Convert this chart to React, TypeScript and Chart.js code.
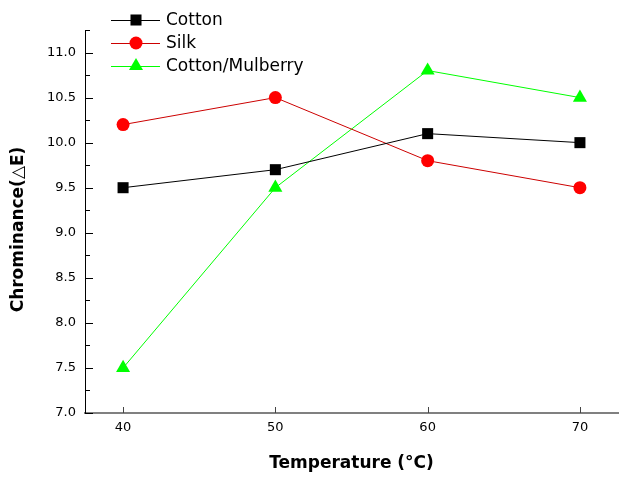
import React, { useEffect, useRef } from "react";
import { Chart, registerables } from "chart.js";
import { drawPoint } from "chart.js/helpers";

Chart.register(...registerables);

const temperatures = [40, 50, 60, 70];
const cottonValues = [9.5, 9.7, 10.1, 10.0];
const silkValues = [10.2, 10.5, 9.8, 9.5];
const mulberryValues = [7.5, 9.5, 10.8, 10.5];
const seriesNames = ["Cotton", "Silk", "Cotton/Mulberry"];
const xTickValues = [40, 50, 60, 70];
const yTickValues = [7.0, 7.5, 8.0, 8.5, 9.0, 9.5, 10.0, 10.5, 11.0];
const yMinorTickValues = [7.25, 7.75, 8.25, 8.75, 9.25, 9.75, 10.25, 10.75, 11.25];
const xTitle = "Temperature (°C)";
const yTitle = "Chrominance(△E)";

const FONT = "'DejaVu Sans', sans-serif";

const decorPlugin = {
  id: "decor",
  afterDraw(chart: any) {
    const ctx = chart.ctx;
    const xs = chart.scales.x;
    const ys = chart.scales.y;
    const area = chart.chartArea;
    ctx.save();
    // y ticks (inward)
    ctx.strokeStyle = "#000";
    ctx.lineWidth = 1;
    ctx.beginPath();
    yTickValues.forEach((v) => {
      const py = Math.round(ys.getPixelForValue(v)) + 0.5;
      ctx.moveTo(area.left, py);
      ctx.lineTo(area.left + 8, py);
    });
    yMinorTickValues.forEach((v) => {
      const py = Math.round(ys.getPixelForValue(v)) + 0.5;
      ctx.moveTo(area.left, py);
      ctx.lineTo(area.left + 5, py);
    });
    ctx.stroke();
    // x ticks (inward)
    ctx.strokeStyle = "#444";
    ctx.beginPath();
    xTickValues.forEach((v) => {
      const px = Math.round(xs.getPixelForValue(v)) + 0.5;
      ctx.moveTo(px, area.bottom);
      ctx.lineTo(px, area.bottom - 6);
    });
    ctx.stroke();
    // y title
    ctx.fillStyle = "#000";
    ctx.font = "bold 17px " + FONT;
    ctx.textAlign = "center";
    ctx.textBaseline = "middle";
    ctx.translate(19, (area.top + area.bottom) / 2 + 8);
    ctx.rotate(-Math.PI / 2);
    ctx.fillText(yTitle, 0, 0);
    ctx.restore();

    // legend
    ctx.save();
    chart.data.datasets.forEach((ds: any, i: number) => {
      const ly = 20 + i * 23;
      ctx.strokeStyle = ds.borderColor;
      ctx.lineWidth = 1;
      ctx.beginPath();
      ctx.moveTo(111, ly + 0.5);
      ctx.lineTo(160, ly + 0.5);
      ctx.stroke();
      ctx.fillStyle = ds.pointBackgroundColor;
      ctx.strokeStyle = ds.pointBackgroundColor;
      drawPoint(ctx, {
        pointStyle: ds.pointStyle,
        radius: ds.pointRadius,
        borderWidth: 0,
        rotation: 0,
      } as any, 136, ly);
      ctx.fillStyle = "#000";
      ctx.font = "17px " + FONT;
      ctx.textAlign = "left";
      ctx.textBaseline = "middle";
      ctx.fillText(seriesNames[i], 166, ly + 1);
    });
    ctx.restore();
  },
};

export default function App() {
  const ref = useRef<HTMLCanvasElement | null>(null);
  useEffect(() => {
    if (!ref.current) return;
    const mk = (vals: number[]) => temperatures.map((t, i) => ({ x: t, y: vals[i] }));
    const chart = new Chart(ref.current, {
      type: "line",
      data: {
        datasets: [
          {
            label: seriesNames[0],
            data: mk(cottonValues),
            borderColor: "#000000",
            borderWidth: 1,
            pointStyle: "rect",
            pointRadius: 7.8,
            pointBackgroundColor: "#000000",
            pointBorderWidth: 0,
          },
          {
            label: seriesNames[1],
            data: mk(silkValues),
            borderColor: "#cc0000",
            borderWidth: 1,
            pointStyle: "circle",
            pointRadius: 6.5,
            pointBackgroundColor: "#ff0000",
            pointBorderWidth: 0,
          },
          {
            label: seriesNames[2],
            data: mk(mulberryValues),
            borderColor: "#00ff00",
            borderWidth: 1,
            pointStyle: "triangle",
            pointRadius: 8.1,
            pointBackgroundColor: "#00ff00",
            pointBorderWidth: 0,
          },
        ] as any,
      },
      options: {
        responsive: false,
        animation: false,
        clip: false as any,
        layout: { padding: { top: 30, right: 15, left: 0, bottom: 0 } },
        plugins: { legend: { display: false }, tooltip: { enabled: false } },
        scales: {
          x: {
            type: "linear",
            min: 37.5,
            max: 72.5,
            afterBuildTicks: (s: any) => {
              s.ticks = xTickValues.map((v) => ({ value: v }));
            },
            afterFit: (s: any) => {
              s.height = 66;
            },
            grid: { display: false, drawTicks: false },
            border: { display: true, color: "#808080", width: 2 },
            ticks: {
              padding: 7,
              color: "#000",
              font: { family: FONT, size: 13 },
              maxRotation: 0,
              callback: (v: any) => String(v),
            },
            title: {
              display: true,
              text: xTitle,
              color: "#000",
              font: { family: FONT, size: 17, weight: "bold" },
              padding: { top: 0, bottom: 5 },
            },
          },
          y: {
            type: "linear",
            min: 7,
            max: 11.25,
            afterBuildTicks: (s: any) => {
              s.ticks = yTickValues.map((v) => ({ value: v }));
            },
            afterFit: (s: any) => {
              s.width = 85;
            },
            grid: { display: false, drawTicks: false },
            border: { display: true, color: "#000", width: 1 },
            ticks: {
              padding: 9,
              color: "#000",
              font: { family: FONT, size: 13 },
              callback: (v: any) => Number(v).toFixed(1),
            },
          },
        },
      },
      plugins: [decorPlugin],
    });
    return () => chart.destroy();
  }, []);
  return (
    <div style={{ position: "absolute", left: 0, top: 0, width: 633, height: 479, background: "#fff" }}>
      <canvas ref={ref} width={633} height={479} />
    </div>
  );
}
